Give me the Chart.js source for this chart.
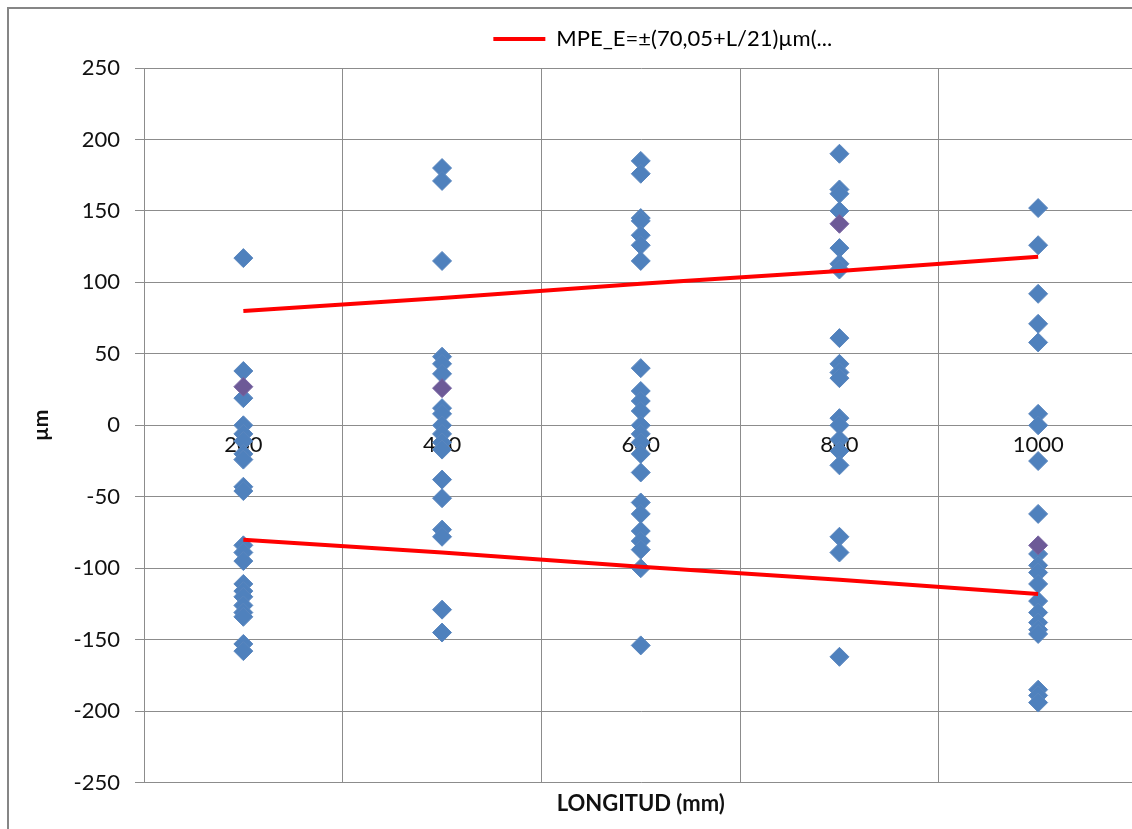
<!DOCTYPE html>
<html>
<head>
<meta charset="utf-8">
<script src="https://cdn.jsdelivr.net/npm/chart.js@4.4.1/dist/chart.umd.min.js"></script>
<style>
  html, body { margin: 0; padding: 0; background: #fff; overflow: hidden; }
  #wrap { position: absolute; left: 0; top: 0; width: 1148px; height: 829px; }
</style>
</head>
<body>
<div id="wrap"><canvas id="myChart"></canvas></div>
<script>
// categorias (LONGITUD en mm)
const longitudes = ['200', '400', '600', '800', '1000'];

const errores200 = [117, 38, 19, 0, -6, -11, -20, -24, -43, -46, -84, -89, -95, -111, -116, -120, -126, -131, -134, -153, -158];
const errores400 = [180, 171, 115, 48, 43, 36, 12, 8, 0, -6, -12, -17, -38, -51, -73, -78, -129, -145];
const errores600 = [185, 176, 145, 143, 133, 126, 115, 40, 24, 17, 10, 0, -6, -12, -20, -33, -54, -62, -74, -81, -87, -100, -154];
const errores800 = [190, 165, 162, 150, 124, 113, 109, 61, 43, 37, 33, 5, 0, -10, -18, -28, -78, -89, -162];
const errores1000 = [152, 126, 92, 71, 58, 8, 0, -25, -62, -90, -98, -103, -111, -123, -131, -138, -143, -146, -185, -189, -194];

// puntos de otra serie (morados) que asoman
const otros = [['200', 27], ['400', 26], ['800', 141], ['1000', -84]];

// MPE_E limites
const mpeSup = [80, 89, 99, 108, 118];
const mpeInf = [-80, -89, -99, -108, -118];

const yTicks = [250, 200, 150, 100, 50, 0, -50, -100, -150, -200, -250];

const grupos = [errores200, errores400, errores600, errores800, errores1000];
const puntos = [];
grupos.forEach((g, i) => g.forEach(v => puntos.push({ x: longitudes[i], y: v })));
const puntosOtros = otros.map(p => ({ x: p[0], y: p[1] }));

const FONT = 'Lato, "Open Sans", sans-serif';

const marco = {
  id: 'marco',
  beforeDraw(chart) {
    const c = chart.ctx;
    c.save();
    c.strokeStyle = '#868686';
    c.lineWidth = 2;
    c.strokeRect(8, 8, 1200, 900);
    c.restore();
  }
};

const moverLeyenda = {
  id: 'moverLeyenda',
  afterLayout(chart) {
    chart.legend.left += 22;
    chart.legend.right += 22;
  }
};

const ctx = document.getElementById('myChart');
const myChart = new Chart(ctx, {
  type: 'line',
  data: {
    labels: longitudes,
    datasets: [
      {
        label: 'MPE_E=±(70,05+L/21)µm(...',
        data: mpeSup,
        borderColor: '#ff0000',
        backgroundColor: '#ff0000',
        borderWidth: 4,
        pointRadius: 0,
        order: 0
      },
      {
        label: 'inf',
        data: mpeInf,
        borderColor: '#ff0000',
        borderWidth: 4,
        pointRadius: 0,
        order: 0
      },
      {
        label: 'medidas',
        data: puntos,
        showLine: false,
        pointStyle: 'rectRot',
        pointRadius: 9.5,
        pointBackgroundColor: '#4f81bd',
        pointBorderColor: '#5a86be',
        pointBorderWidth: 1,
        order: 2
      },
      {
        label: 'otros',
        data: puntosOtros,
        showLine: false,
        pointStyle: 'rectRot',
        pointRadius: 9.5,
        pointBackgroundColor: '#6d5a97',
        pointBorderColor: '#7a66a4',
        pointBorderWidth: 1,
        order: 1
      }
    ]
  },
  options: {
    responsive: true,
    maintainAspectRatio: false,
    animation: false,
    layout: { padding: { top: 13, right: 3, left: 0, bottom: 0 } },
    plugins: {
      legend: {
        display: true,
        position: 'top',
        fullSize: false,
        labels: {
          font: { family: FONT, size: 22 },
          color: '#222',
          boxWidth: 52,
          boxHeight: 4,
          padding: 15,
          generateLabels(chart) {
            return [{
              text: 'MPE_E=±(70,05+L/21)µm(...',
              fillStyle: '#ff0000',
              strokeStyle: '#ff0000',
              lineWidth: 0,
              datasetIndex: 0
            }];
          }
        }
      },
      // espacio entre leyenda y area de trazado
      subtitle: {
        display: true,
        position: 'top',
        fullSize: false,
        weight: 500,
        text: '',
        font: { size: 1, lineHeight: 1 },
        padding: { top: 7, bottom: 0 }
      },
      title: {
        display: true,
        position: 'bottom',
        fullSize: false,
        text: 'LONGITUD (mm)',
        color: '#111',
        font: { family: FONT, size: 22, weight: 'bold' },
        padding: { top: 8, bottom: 12 }
      },
      tooltip: { enabled: false }
    },
    scales: {
      x: {
        type: 'category',
        position: { y: 0 },
        offset: true,
        z: 1,
        grid: { offset: true, color: '#8c8c8c', lineWidth: 1, drawTicks: false },
        border: { display: false },
        ticks: { font: { family: FONT, size: 22 }, color: '#111', padding: 6, maxRotation: 0 }
      },
      y: {
        min: -250,
        max: 250,
        afterFit(scale) { scale.width = 144; },
        afterBuildTicks(scale) { scale.ticks = yTicks.map(v => ({ value: v })); },
        grid: { color: '#8c8c8c', lineWidth: 1, drawTicks: true, tickLength: 9 },
        border: { display: true, color: '#8c8c8c' },
        ticks: { font: { family: FONT, size: 22 }, color: '#111', padding: 15 },
        title: {
          display: true,
          text: 'µm',
          color: '#111',
          font: { family: FONT, size: 21, weight: 'bold' },
          padding: { top: 29 }
        }
      }
    }
  },
  plugins: [marco, moverLeyenda]
});
</script>
</body>
</html>
